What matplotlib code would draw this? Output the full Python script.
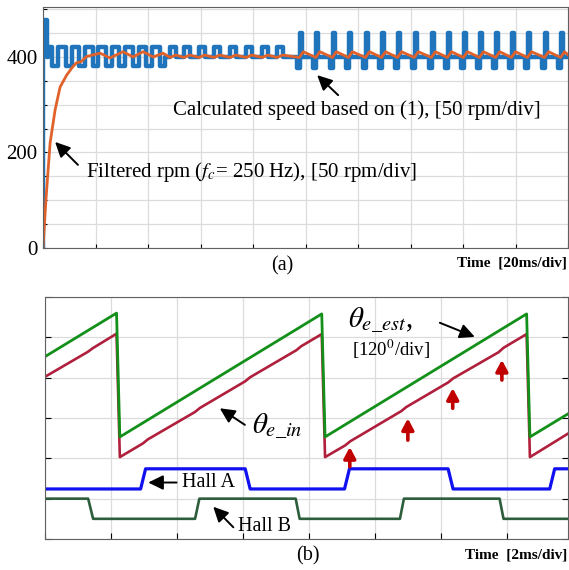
import matplotlib.pyplot as plt
import numpy as np

plt.rcParams['font.family'] = ['Liberation Serif', 'DejaVu Serif']
plt.rcParams['mathtext.fontset'] = 'stix'

# ---------------- (a) speed, time in ms, speed in rpm ----------------
start_t = [0.0, 0.0, 1.5, 1.5, 2.0, 2.0]          # start-up spike of calculated speed
start_v = [0, 478, 478, 400, 400, 420]
dip_t = [3.6, 8.7, 13.8, 18.9, 24.0, 29.1, 34.2, 39.3, 44.4]   # dips 420 -> 382
bump_t = [48.4, 53.7, 59.4, 65.1, 71.2, 77.3, 83.4, 89.1]      # bumps 400 -> 420
spike_t = [97.9, 104.2, 110.5, 116.6, 123.1, 129.2, 135.3, 141.7, 148.2,
           154.3, 160.4, 166.5, 172.7, 178.7, 184.8, 191.3, 197.4]  # 377 then 450
dip_lvl = [420, 382]
bump_lvl = [400, 420]
spike_lvl = [400, 377, 450]

# filtered rpm (fc = 250 Hz)
filt_t = [0, 1.1, 2.7, 4.6, 6.5, 9.0, 11.4, 12.8, 14.5, 16.6, 21.7, 25.5, 30.5,
          34.3, 38.1, 42.0, 45.7]
filt_v = [0, 100, 220, 289, 337, 362, 380, 388, 390, 401, 408, 398, 411,
          400, 411, 400, 408]
filt_ripple2 = [399, 404]     # ripple while bumps
filt_ripple3 = [399, 411]     # ripple while spikes

# ---------------- (b) angles in div (120 deg/div), time in ms ----------------
est_t = [0, 2.17, 2.27, 8.39, 8.49, 14.60, 14.70, 15.85]
est_v = [4.52, 5.60, 2.53, 5.58, 2.53, 5.58, 2.53, 3.10]
in_t = [0, 1.30, 1.45, 2.17, 2.27, 2.97, 3.12, 4.55, 4.70, 6.07, 6.22, 7.62, 7.77,
        8.39, 8.49, 9.10, 9.25, 10.80, 10.95, 12.22, 12.37, 13.75, 13.90,
        14.60, 14.70, 15.85]
in_v = [4.02, 4.64, 4.73, 5.09, 2.03, 2.37, 2.47, 3.15, 3.25, 3.91, 4.01, 4.68, 4.78,
        5.08, 2.03, 2.32, 2.42, 3.17, 3.27, 3.88, 3.98, 4.63, 4.74,
        5.08, 2.03, 2.61]
hallA_t = [0, 2.90, 3.05, 6.07, 6.22, 9.08, 9.23, 12.22, 12.37, 15.30, 15.45, 15.85]
hallA_v = [1.24, 1.24, 1.74, 1.74, 1.24, 1.24, 1.74, 1.74, 1.24, 1.24, 1.74, 1.74]
hallB_t = [0, 1.31, 1.46, 4.55, 4.68, 7.60, 7.72, 10.76, 10.88, 13.78, 13.90, 15.85]
hallB_v = [1.0, 1.0, 0.5, 0.5, 1.0, 1.0, 0.5, 0.5, 1.0, 1.0, 0.5, 0.5]
mark_t = [9.24, 11.0, 12.36, 13.85]          # red arrows at Hall edges
mark_tail = [1.79, 2.45, 3.24, 3.94]
mark_tip = [2.28, 2.99, 3.74, 4.44]

# build step waveform of calculated speed
bt = list(start_t)
bv = list(start_v)
for t0 in dip_t:
    bt += [t0, t0, t0 + 2.2, t0 + 2.2]
    bv += [dip_lvl[0], dip_lvl[1], dip_lvl[1], dip_lvl[0]]
bv[-1] = bump_lvl[0]
for t0 in bump_t:
    bt += [t0, t0, t0 + 2.2, t0 + 2.2]
    bv += [bump_lvl[0], bump_lvl[1], bump_lvl[1], bump_lvl[0]]
for t0 in spike_t:
    bt += [t0 - 1.2, t0 - 1.2, t0 - 0.2, t0 - 0.2, t0 + 0.6, t0 + 0.6]
    bv += [spike_lvl[0], spike_lvl[1], spike_lvl[1], spike_lvl[2], spike_lvl[2], spike_lvl[0]]
bt.append(200)
bv.append(spike_lvl[0])

ft = list(filt_t)
fv = list(filt_v)
for t0 in bump_t:
    ft += [t0, t0 + 2.2]
    fv += filt_ripple2
for t0 in spike_t:
    ft += [t0 - 0.3, t0 + 1.2]
    fv += filt_ripple3
ft.append(200)
fv.append(404)

black_arrow = dict(arrowstyle='-|>,head_length=0.45,head_width=0.22', color='k',
                   lw=1.4, mutation_scale=20, shrinkA=0, shrinkB=0)
red_arrow = dict(arrowstyle='-|>,head_length=0.6,head_width=0.32', color='#c00000',
                 lw=2.6, mutation_scale=11, shrinkA=0, shrinkB=0)

fig = plt.figure(figsize=(5.69, 5.70), dpi=100)

# ---------------- top panel ----------------
ax1 = fig.add_axes([0.0756, 0.565, 0.923, 0.423])
ax1.plot(bt, bv, color='#1f74bb', lw=3.2, solid_joinstyle='round')
ax1.plot(ft, fv, color='#e0622a', lw=2.0)
ax1.set_xlim(0, 200)
ax1.set_ylim(0, 505)
ax1.set_xticks(np.arange(0, 201, 20))
ax1.set_xticklabels([])
ax1.set_yticks(np.arange(0, 501, 50))
ax1.set_yticklabels(['0', '', '', '', '200', '', '', '', '400', '', ''])
ax1.tick_params(axis='y', direction='in', length=3, labelsize=15, pad=4)
ax1.tick_params(axis='x', direction='in', length=3)
ax1.grid(True, color='#dcdcdc', lw=0.9)
ax1.set_axisbelow(True)
for s in ax1.spines.values():
    s.set_color('#606060')

ax1.annotate('', xy=(104.4, 362), xytext=(112.4, 320), arrowprops=black_arrow)
ax1.text(49.5, 289, 'Calculated speed based on (1), [50 rpm/div]', fontsize=15,
         va='center', ha='left')
ax1.annotate('', xy=(4.6, 222), xytext=(13.3, 174), arrowprops=black_arrow)
ax1.text(16.4, 159, r'Filtered rpm ($f_c$= 250 Hz), [50 rpm/div]', fontsize=15,
         va='center', ha='left')

fig.text(0.4956, 0.533, '(a)', fontsize=14.5, ha='center', va='center')
fig.text(0.9965, 0.5386, 'Time  [20ms/div]', fontsize=11, fontweight='bold',
         ha='right', va='center')

# ---------------- bottom panel ----------------
ax2 = fig.add_axes([0.079, 0.0544, 0.919, 0.4246])
ax2.plot(in_t, in_v, color='#b0203c', lw=1.9)
ax2.plot(est_t, est_v, color='#13901a', lw=2.0)
ax2.plot(hallA_t, hallA_v, color='#1010f0', lw=2.3)
ax2.plot(hallB_t, hallB_v, color='#2d5e3c', lw=1.9)
ax2.set_xlim(0, 15.85)
ax2.set_ylim(0, 6)
ax2.set_xticks(np.arange(0, 15, 2))
ax2.set_yticks(np.arange(0, 7, 1))
ax2.set_xticklabels([])
ax2.set_yticklabels([])
ax2.tick_params(direction='in', length=4, top=False, right=True)
ax2.grid(True, color='#dcdcdc', lw=0.9)
ax2.set_axisbelow(True)
for s in ax2.spines.values():
    s.set_color('#606060')

for t0, y0, y1 in zip(mark_t, mark_tail, mark_tip):
    ax2.annotate('', xy=(t0, y1), xytext=(t0, y0), arrowprops=red_arrow)

ax2.text(9.18, 5.42, r'$\theta_{e\_est}$,', fontsize=21, ha='left', va='center')
ax2.text(9.3, 4.69, r'[120$^0$/div]', fontsize=13.5, ha='left', va='center')
ax2.annotate('', xy=(13.03, 5.01), xytext=(11.97, 5.36), arrowprops=black_arrow)
ax2.text(6.27, 2.80, r'$\theta_{e\_in}$', fontsize=21, ha='left', va='center')
ax2.annotate('', xy=(5.30, 3.24), xytext=(6.06, 2.83), arrowprops=black_arrow)
ax2.text(4.15, 1.41, 'Hall A', fontsize=14.5, ha='left', va='center')
ax2.annotate('', xy=(3.13, 1.40), xytext=(3.99, 1.40), arrowprops=black_arrow)
ax2.text(5.86, 0.32, 'Hall B', fontsize=14.5, ha='left', va='center')
ax2.annotate('', xy=(5.10, 0.80), xytext=(5.71, 0.29), arrowprops=black_arrow)

fig.text(0.541, 0.0246, '(b)', fontsize=14.5, ha='center', va='center')
fig.text(0.9965, 0.026, 'Time  [2ms/div]', fontsize=11, fontweight='bold',
         ha='right', va='center')

fig.savefig('out.png', dpi=100)
